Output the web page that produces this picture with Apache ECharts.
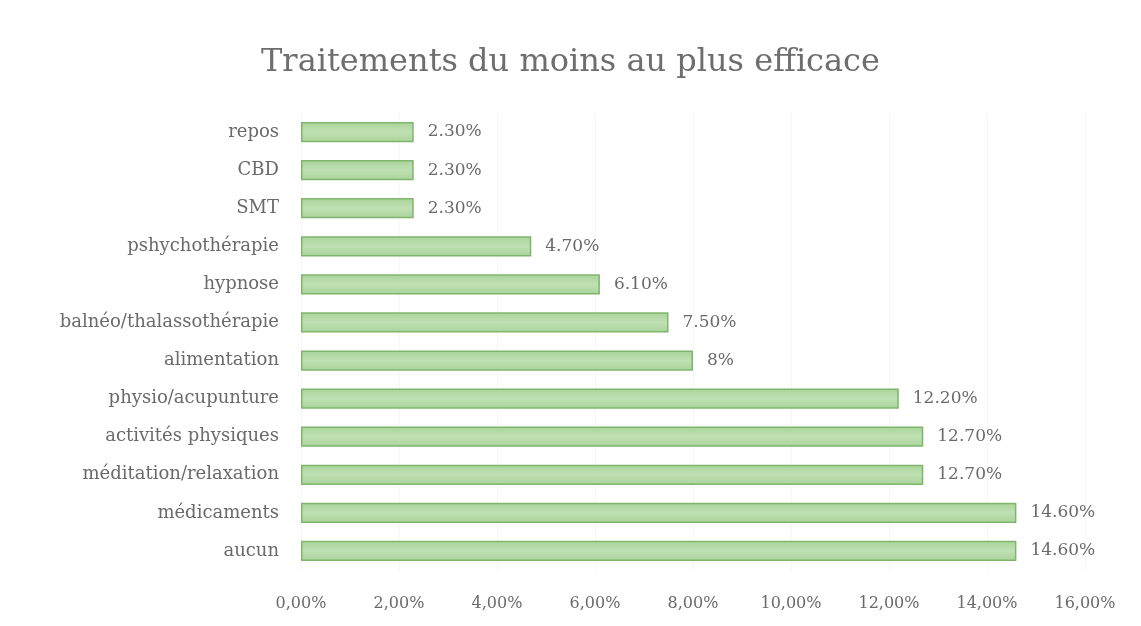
<!DOCTYPE html>
<html>
<head>
<meta charset="utf-8">
<script src="https://cdn.jsdelivr.net/npm/echarts@6/dist/echarts.min.js"></script>
<style>
  html, body { margin: 0; padding: 0; background: #fff; }
  #chart { width: 1141px; height: 626px; }
</style>
</head>
<body>
<div id="chart"></div>
<script>
const categories = [
  'repos', 'CBD', 'SMT', 'pshychothérapie', 'hypnose',
  'balnéo/thalassothérapie', 'alimentation', 'physio/acupunture',
  'activités physiques', 'méditation/relaxation', 'médicaments', 'aucun'
]
const values = [2.3, 2.3, 2.3, 4.7, 6.1, 7.5, 8, 12.2, 12.7, 12.7, 14.6, 14.6]
const valueLabels = [
  '2.30%', '2.30%', '2.30%', '4.70%', '6.10%', '7.50%', '8%',
  '12.20%', '12.70%', '12.70%', '14.60%', '14.60%'
]
const tickLabels = ['0,00%', '2,00%', '4,00%', '6,00%', '8,00%', '10,00%', '12,00%', '14,00%', '16,00%']

const font = 'DejaVu Serif'
const textColor = '#6a6a6a'

const chart = echarts.init(document.getElementById('chart'))

chart.setOption({
  backgroundColor: '#fff',
  animation: false,
  title: {
    text: 'Traitements du moins au plus efficace',
    left: 'center',
    top: 42,
    textStyle: {
      fontFamily: font,
      fontSize: 32,
      fontWeight: 'normal',
      color: '#6e6e6e'
    }
  },
  grid: {
    left: 301,
    right: 56,
    top: 113,
    bottom: 56,
    containLabel: false
  },
  xAxis: {
    type: 'value',
    min: 0,
    max: 16,
    interval: 2,
    axisLine: { show: false },
    axisTick: { show: false },
    splitLine: { show: true, lineStyle: { color: '#f6f6f6', width: 1 } },
    axisLabel: {
      fontFamily: font,
      fontSize: 16,
      color: textColor,
      margin: 26,
      formatter: (v) => tickLabels[Math.round(v / 2)]
    }
  },
  yAxis: {
    type: 'category',
    data: categories,
    inverse: true,
    axisLine: { show: false },
    axisTick: { show: false },
    axisLabel: {
      fontFamily: font,
      fontSize: 18,
      color: textColor,
      margin: 22
    }
  },
  series: [
    {
      type: 'bar',
      data: values,
      barCategoryGap: '47%',
      itemStyle: {
        color: new echarts.graphic.LinearGradient(0, 0, 0, 1, [
          { offset: 0, color: '#a9d49a' },
          { offset: 0.5, color: '#bfe0b3' },
          { offset: 1, color: '#a9d49a' }
        ]),
        borderColor: '#7fb56d',
        borderWidth: 1.5
      },
      label: {
        show: true,
        position: 'right',
        distance: 14,
        fontFamily: font,
        fontSize: 17,
        color: textColor,
        formatter: (p) => valueLabels[p.dataIndex]
      }
    }
  ]
})
</script>
</body>
</html>
